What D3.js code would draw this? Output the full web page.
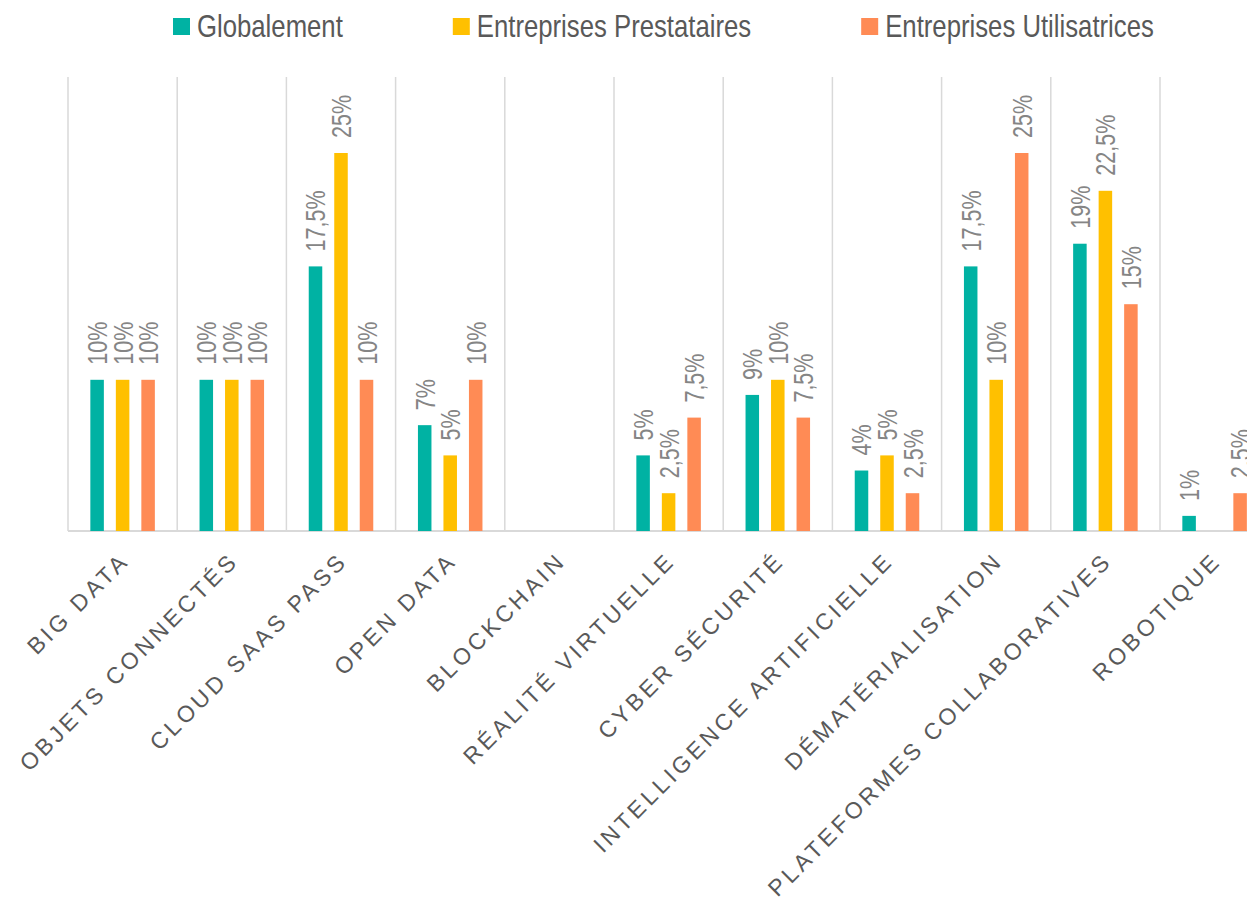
<!DOCTYPE html>
<html>
<head>
<meta charset="utf-8">
<script src="https://cdn.jsdelivr.net/npm/d3@7"></script>
<style>
  html, body { margin: 0; padding: 0; background: #fff; overflow: hidden; }
  svg { display: block; font-family: "Liberation Sans", Arial, sans-serif; }
</style>
</head>
<body>
<div id="chart"></div>
<script>
////////////////////////////////////////////////////
// data
var categories = ["BIG DATA", "OBJETS CONNECTÉS", "CLOUD SAAS PASS", "OPEN DATA", "BLOCKCHAIN",
	"RÉALITÉ VIRTUELLE", "CYBER SÉCURITÉ", "INTELLIGENCE ARTIFICIELLE", "DÉMATÉRIALISATION",
	"PLATEFORMES COLLABORATIVES", "ROBOTIQUE"];
var seriesNames = ["Globalement", "Entreprises Prestataires", "Entreprises Utilisatrices"];
var globalement = [10, 10, 17.5, 7, null, 5, 9, 4, 17.5, 19, 1];
var prestataires = [10, 10, 25, 5, null, 2.5, 10, 5, 10, 22.5, null];
var utilisatrices = [10, 10, 10, 10, null, 7.5, 7.5, 2.5, 25, 15, 2.5];
var colors = ["#00B2A3", "#FFC000", "#FF8B55"];

var seriesValues = [globalement, prestataires, utilisatrices];

///////////
var totalW = 1247, totalH = 902;
var leftMargin = 68;
var catStep = 109.2;
var baseY = 531;
var gridTop = 77;

var chart = d3.select("#chart").append("svg")
	.attr("width", totalW)
	.attr("height", totalH);

var x0 = d3.scaleBand()
	.domain(categories)
	.range([leftMargin, leftMargin + catStep * categories.length])
	.padding(0);
var x1 = d3.scaleBand()
	.domain(seriesNames)
	.range([0, catStep])
	.paddingInner(0.47)
	.paddingOuter(0.876);
var y = d3.scaleLinear().domain([0, 25]).range([baseY, 153]);

var fmt = function(v) { return String(v).replace(".", ",") + "%"; };

/////////// GRID
chart.selectAll("line.grid")
	.data(categories)
	.enter().append("line")
	.attr("class", "grid")
	.attr("x1", function(d) { return x0(d); })
	.attr("x2", function(d) { return x0(d); })
	.attr("y1", gridTop)
	.attr("y2", baseY)
	.attr("stroke", "#d9d9d9")
	.attr("stroke-width", 1.5);
chart.append("line")
	.attr("x1", leftMargin).attr("x2", totalW)
	.attr("y1", baseY).attr("y2", baseY)
	.attr("stroke", "#d9d9d9")
	.attr("stroke-width", 2);

/////////// BARS + LABELS
var rows = [];
categories.forEach(function(c, i) {
	seriesNames.forEach(function(s, j) {
		var v = seriesValues[j][i];
		if (v !== null) rows.push({cat: c, ser: s, v: v, col: colors[j]});
	});
});

chart.selectAll("rect.bar")
	.data(rows)
	.enter().append("rect")
	.attr("class", "bar")
	.attr("x", function(d) { return x0(d.cat) + x1(d.ser); })
	.attr("y", function(d) { return y(d.v); })
	.attr("width", x1.bandwidth())
	.attr("height", function(d) { return baseY - y(d.v); })
	.attr("fill", function(d) { return d.col; });

// narrow font look: squeeze along the text direction
chart.selectAll("text.val")
	.data(rows)
	.enter().append("text")
	.attr("class", "val")
	.attr("transform", function(d) {
		var cx = x0(d.cat) + x1(d.ser) + x1.bandwidth() / 2 + 10;
		return "translate(" + cx + "," + (y(d.v) - 15) + ") rotate(-90) scale(0.77,1)";
	})
	.attr("font-size", 28)
	.attr("fill", "#858585")
	.text(function(d) { return fmt(d.v); });

/////////// CATEGORY LABELS
chart.selectAll("text.cat")
	.data(categories)
	.enter().append("text")
	.attr("class", "cat")
	.attr("transform", function(d) {
		return "translate(" + (x0(d) + catStep / 2 + 8) + "," + (baseY + 31) + ") rotate(-45)";
	})
	.attr("text-anchor", "end")
	.attr("font-size", 23)
	.attr("letter-spacing", 3.6)
	.attr("fill", "#595959")
	.text(function(d) { return d; });

/////////// LEGEND
var legend = chart.append("g");
var lx = 173;
seriesNames.forEach(function(s, j) {
	legend.append("rect")
		.attr("x", lx).attr("y", 18)
		.attr("width", 17).attr("height", 17)
		.attr("fill", colors[j]);
	var t = legend.append("text")
		.attr("transform", "translate(" + (lx + 24) + ",37) scale(0.83,1)")
		.attr("font-size", 31)
		.attr("fill", "#595959")
		.text(s);
	lx += 24 + t.node().getComputedTextLength() * 0.83 + 110;
});
////////////////////////////////////////////////////
</script>
</body>
</html>
